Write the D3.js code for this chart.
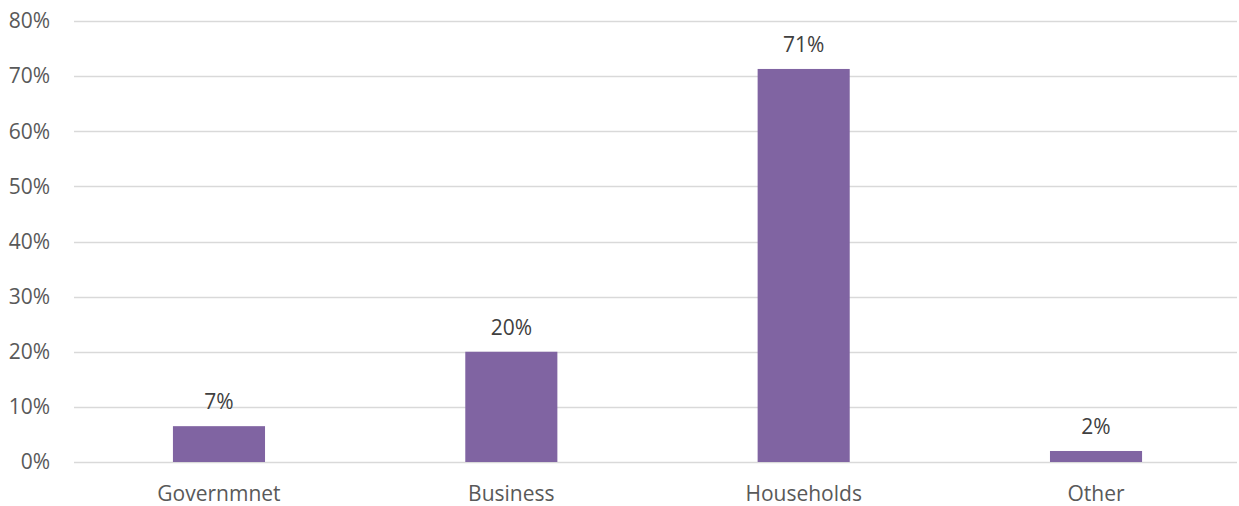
<!DOCTYPE html>
<html>
<head>
<meta charset="utf-8">
<script src="https://cdn.jsdelivr.net/npm/d3@7"></script>
<style>
  body { margin: 0; background: #fff; }
  text { font-family: "Open Sans", sans-serif; }
</style>
</head>
<body>
<div id="chart"></div>
<script>
// data
var categories = ["Governmnet", "Business", "Households", "Other"];
var values = [0.065, 0.20, 0.713, 0.02];
var labels = ["7%", "20%", "71%", "2%"];
var y_ticks = [0, 0.1, 0.2, 0.3, 0.4, 0.5, 0.6, 0.7, 0.8];

var width = 1239;
var height = 506;
var padding = { "left": 74, "right": 2, "top": 21, "bottom": 44 };

var svg = d3.select("#chart").append("svg")
    .attr("width", width)
    .attr("height", height);

var x_scale = d3.scaleBand()
    .domain(categories)
    .range([75, 1240])
    .paddingInner(0.685)
    .paddingOuter(0.335);

var y_scale = d3.scaleLinear()
    .domain([0, 0.8])
    .range([height - padding.bottom, padding.top]);

// gridlines
svg.selectAll(".grid").data(y_ticks)
    .enter().append("line")
    .attr("x1", padding.left)
    .attr("x2", width - padding.right)
    .attr("y1", function (d) { return Math.round(y_scale(d)) + 0.5; })
    .attr("y2", function (d) { return Math.round(y_scale(d)) + 0.5; })
    .attr("stroke", "#d9d9d9")
    .attr("stroke-width", 1.3);

// y labels
svg.selectAll(".y-label").data(y_ticks)
    .enter().append("text")
    .attr("x", 50)
    .attr("y", function (d) { return y_scale(d); })
    .attr("dy", "0.35em")
    .attr("text-anchor", "end")
    .attr("font-size", 21)
    .attr("fill", "#595959")
    .text(d3.format(".0%"));

// bars
svg.selectAll(".bar").data(values)
    .enter().append("rect")
    .attr("x", function (d, i) { return x_scale(categories[i]); })
    .attr("width", x_scale.bandwidth())
    .attr("y", function (d) { return y_scale(d); })
    .attr("height", function (d) { return y_scale(0) - y_scale(d); })
    .attr("fill", "#8064a2");

// value labels
svg.selectAll(".val").data(values)
    .enter().append("text")
    .attr("x", function (d, i) { return x_scale(categories[i]) + x_scale.bandwidth() / 2; })
    .attr("y", function (d) { return y_scale(d) - 17; })
    .attr("text-anchor", "middle")
    .attr("font-size", 21)
    .attr("fill", "#404040")
    .text(function (d, i) { return labels[i]; });

// category labels
svg.selectAll(".cat").data(categories)
    .enter().append("text")
    .attr("x", function (d) { return x_scale(d) + x_scale.bandwidth() / 2; })
    .attr("y", y_scale(0) + 39)
    .attr("text-anchor", "middle")
    .attr("font-size", 21)
    .attr("fill", "#595959")
    .text(function (d) { return d; });
</script>
</body>
</html>
